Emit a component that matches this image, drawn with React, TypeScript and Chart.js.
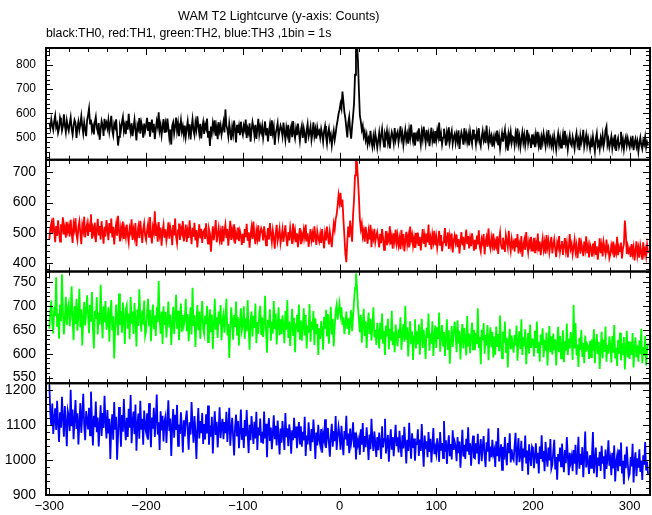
import React, { useEffect, useRef } from 'react';
import { Chart, registerables } from 'chart.js';

Chart.register(...registerables);

// Light-curve bins: start time (s) and bin width (1bin = 1s)
const T_START = -300;
const T_BIN = 1;

// black: TH0 counts per 1 s bin
const TH0 = [
  561, 538, 574, 549, 531, 567, 590, 542, 556, 519, 537, 581, 563, 528, 547, 596, 550, 522, 569, 544,
  527, 558, 583, 536, 511, 549, 572, 560, 498, 541, 565, 530, 554, 588, 546, 517, 562, 535, 505, 571,
  593, 620, 557, 574, 529, 546, 512, 563, 585, 540, 523, 559, 490, 532, 568, 551, 506, 577, 544, 560,
  538, 571, 524, 553, 589, 530, 509, 556, 542, 575, 518, 466, 502, 547, 531, 562, 584, 527, 550, 513,
  569, 532, 598, 547, 521, 558, 505, 540, 573, 529, 487, 551, 536, 580, 515, 562, 543, 499, 557, 526,
  548, 581, 527, 563, 503, 539, 574, 520, 556, 492, 533, 567, 545, 604, 528, 551, 509, 542, 576, 519,
  555, 521, 578, 540, 498, 532, 470, 549, 563, 516, 545, 582, 527, 557, 505, 538, 571, 524, 546, 511,
  549, 503, 536, 566, 520, 554, 491, 541, 575, 528, 509, 560, 533, 587, 547, 515, 556, 496, 538, 562,
  514, 553, 537, 578, 502, 526, 464, 545, 518, 559, 532, 571, 507, 540, 492, 563, 528, 550, 511, 536,
  563, 520, 616, 549, 533, 504, 557, 525, 488, 542, 514, 570, 531, 479, 552, 519, 546, 509, 565, 527,
  510, 548, 531, 574, 497, 536, 519, 558, 482, 529, 563, 541, 507, 552, 493, 535, 577, 515, 544, 522,
  547, 498, 530, 566, 511, 539, 483, 525, 553, 506, 571, 520, 544, 469, 517, 536, 559, 502, 528, 549,
  533, 505, 561, 522, 490, 540, 514, 552, 478, 527, 546, 501, 568, 519, 496, 535, 509, 557, 521, 486,
  529, 549, 498, 537, 512, 476, 531, 556, 503, 520, 544, 489, 518, 562, 507, 533, 495, 541, 516, 526,
  499, 535, 513, 482, 526, 547, 505, 474, 519, 538, 493, 511, 467, 502, 528, 490, 516, 549, 571, 598,
  615, 640, 620, 690, 650, 605, 580, 540, 500, 560, 585, 530, 495, 545, 590, 640, 760, 890, 900, 820,
  700, 592, 566, 531, 548, 505, 523, 489, 511, 470, 495, 478, 527, 483, 460, 502, 471, 516, 490, 457,
  488, 519, 472, 506, 535, 493, 462, 514, 499, 527, 481, 510, 454, 497, 522, 505, 476, 539, 490, 511,
  523, 480, 508, 546, 495, 517, 469, 503, 531, 488, 512, 474, 529, 498, 553, 507, 483, 520, 466, 502,
  515, 483, 537, 501, 470, 522, 494, 545, 509, 478, 531, 496, 517, 463, 504, 540, 487, 512, 475, 526,
  490, 528, 503, 561, 484, 512, 471, 499, 536, 507, 466, 519, 493, 542, 481, 508, 527, 474, 501, 514,
  478, 511, 486, 529, 452, 497, 521, 503, 470, 538, 492, 515, 481, 509, 466, 524, 496, 473, 532, 500,
  506, 472, 519, 495, 538, 481, 463, 502, 527, 489, 511, 476, 549, 494, 470, 516, 487, 505, 461, 498,
  474, 509, 493, 528, 467, 501, 455, 490, 518, 482, 507, 531, 469, 496, 445, 512, 486, 521, 478, 503,
  499, 468, 515, 487, 537, 474, 502, 460, 493, 521, 480, 509, 466, 495, 531, 477, 504, 488, 456, 512,
  471, 497, 459, 512, 485, 523, 468, 494, 449, 501, 478, 516, 490, 463, 507, 482, 530, 475, 496, 466,
  494, 462, 506, 480, 448, 489, 515, 471, 499, 457, 483, 512, 468, 527, 476, 495, 451, 486, 509, 473,
  465, 502, 481, 453, 496, 518, 470, 489, 447, 506, 477, 494, 531, 461, 485, 510, 468, 498, 475, 452,
  488, 459, 503, 472, 441, 494, 517, 466, 480, 452, 497, 475, 509, 463, 486, 530, 545, 470, 491, 458,
  479, 503, 456, 488, 469, 512, 444, 481, 497, 460, 476, 523, 465, 490, 451, 485, 502, 467, 496, 474,
  458, 489, 471, 506, 447, 478, 494, 462, 483, 441, 475, 499, 468, 452, 487, 472, 501, 459, 480, 466,
];

// red: TH1 counts per 1 s bin
const TH1 = [
  478, 515, 531, 496, 549, 507, 468, 522, 489, 541, 503, 470, 528, 512, 551, 494, 517, 483, 536, 505,
  521, 487, 543, 502, 466, 529, 511, 548, 493, 475, 518, 537, 499, 462, 524, 506, 553, 484, 512, 530,
  489, 526, 505, 561, 480, 514, 497, 533, 468, 509, 546, 491, 522, 477, 538, 500, 463, 519, 487, 542,
  513, 475, 532, 498, 547, 484, 519, 461, 505, 528, 490, 556, 507, 471, 516, 494, 537, 479, 510, 486,
  527, 492, 468, 515, 501, 544, 476, 509, 487, 532, 455, 498, 520, 482, 539, 503, 466, 512, 531, 490,
  475, 508, 529, 486, 552, 497, 464, 518, 501, 571, 489, 512, 470, 535, 494, 517, 457, 504, 526, 483,
  511, 473, 496, 534, 480, 519, 502, 458, 525, 491, 547, 487, 465, 508, 530, 476, 514, 499, 538, 471,
  493, 527, 469, 505, 482, 541, 498, 462, 516, 487, 533, 474, 509, 451, 495, 528, 481, 513, 466, 502,
  508, 479, 531, 490, 464, 512, 497, 437, 483, 521, 475, 505, 542, 468, 494, 516, 478, 501, 460, 523,
  471, 504, 526, 482, 513, 457, 495, 539, 476, 508, 488, 528, 463, 499, 480, 517, 472, 506, 491, 459,
  496, 466, 512, 485, 529, 473, 501, 450, 493, 518, 479, 537, 488, 462, 505, 481, 524, 470, 499, 514,
  503, 474, 521, 492, 458, 486, 515, 477, 532, 496, 469, 508, 483, 447, 498, 526, 472, 491, 513, 465,
  487, 511, 469, 496, 524, 480, 455, 502, 474, 517, 492, 463, 530, 484, 506, 471, 498, 452, 489, 515,
  462, 494, 478, 509, 486, 527, 471, 498, 453, 481, 512, 475, 496, 468, 521, 488, 459, 504, 483, 470,
  495, 466, 512, 481, 448, 497, 474, 520, 489, 461, 503, 478, 452, 495, 530, 510, 545, 560, 590, 625,
  600, 632, 585, 610, 545, 490, 430, 402, 470, 520, 485, 540, 505, 470, 560, 610, 690, 738, 735, 680,
  620, 545, 512, 530, 488, 506, 470, 519, 491, 463, 504, 478, 526, 452, 497, 481, 513, 469, 488, 502,
  477, 451, 496, 465, 512, 483, 443, 470, 505, 458, 489, 474, 521, 461, 485, 447, 498, 472, 510, 466,
  491, 458, 480, 445, 509, 469, 495, 438, 474, 503, 462, 487, 451, 520, 476, 493, 457, 482, 449, 499,
  472, 500, 456, 486, 441, 478, 512, 463, 489, 452, 497, 468, 527, 459, 481, 444, 493, 470, 506, 458,
  485, 449, 474, 506, 457, 492, 438, 468, 481, 515, 455, 477, 501, 446, 488, 463, 497, 434, 471, 490,
  467, 494, 452, 479, 431, 470, 502, 458, 486, 443, 475, 510, 462, 489, 448, 481, 455, 498, 471, 440,
  476, 445, 490, 461, 508, 452, 437, 479, 466, 495, 428, 470, 485, 453, 514, 463, 447, 482, 459, 497,
  441, 470, 455, 488, 429, 476, 500, 459, 447, 483, 465, 436, 492, 472, 451, 506, 461, 439, 478, 455,
  468, 437, 481, 452, 495, 431, 463, 447, 489, 420, 458, 476, 443, 502, 460, 435, 471, 454, 486, 440,
  455, 483, 432, 466, 448, 497, 438, 470, 425, 458, 481, 444, 467, 430, 492, 452, 473, 436, 462, 486,
  431, 460, 478, 445, 419, 466, 451, 489, 437, 458, 472, 426, 455, 482, 441, 464, 418, 450, 495, 447,
  462, 428, 451, 476, 437, 458, 415, 447, 483, 430, 466, 449, 422, 470, 445, 488, 432, 455, 418, 461,
  449, 420, 464, 438, 472, 426, 455, 410, 443, 481, 432, 458, 421, 468, 446, 429, 477, 440, 451, 415,
  427, 458, 441, 470, 418, 449, 433, 486, 425, 452, 439, 467, 414, 446, 462, 540, 498, 429, 455, 436,
  446, 419, 462, 431, 452, 408, 440, 471, 425, 448, 417, 457, 436, 410, 468, 429, 445, 421, 459, 432,
];

// green: TH2 counts per 1 s bin
const TH2 = [
  652, 690, 711, 663, 642, 698, 679, 760, 656, 684, 631, 703, 668, 766, 689, 640, 676, 719, 660, 694,
  705, 657, 683, 741, 671, 628, 699, 662, 715, 648, 680, 736, 655, 693, 617, 674, 708, 659, 687, 722,
  681, 643, 702, 667, 729, 654, 611, 690, 673, 718, 640, 685, 661, 744, 677, 632, 699, 666, 710, 650,
  664, 697, 625, 683, 712, 649, 678, 590, 655, 703, 671, 638, 726, 660, 689, 644, 707, 675, 620, 692,
  701, 652, 684, 630, 719, 663, 688, 641, 706, 672, 615, 693, 658, 735, 677, 646, 690, 661, 711, 637,
  648, 684, 715, 659, 692, 626, 674, 703, 651, 680, 637, 697, 666, 752, 671, 642, 688, 620, 699, 660,
  687, 634, 670, 709, 655, 682, 618, 664, 698, 641, 676, 723, 652, 690, 628, 667, 705, 646, 681, 659,
  672, 715, 647, 683, 626, 669, 697, 640, 738, 658, 681, 614, 666, 702, 649, 688, 631, 675, 710, 653,
  641, 679, 662, 700, 624, 667, 693, 645, 682, 610, 659, 715, 650, 676, 633, 688, 661, 702, 628, 671,
  683, 644, 672, 715, 638, 662, 591, 650, 697, 667, 629, 681, 656, 709, 640, 676, 617, 664, 695, 648,
  660, 699, 631, 674, 647, 712, 653, 608, 669, 688, 636, 679, 654, 705, 622, 666, 642, 684, 700, 639,
  676, 635, 663, 721, 648, 602, 671, 655, 693, 627, 667, 642, 710, 651, 684, 619, 660, 697, 638, 672,
  641, 680, 655, 622, 689, 650, 712, 633, 667, 616, 658, 694, 637, 675, 603, 662, 681, 645, 703, 629,
  670, 627, 656, 695, 638, 681, 611, 659, 644, 704, 625, 667, 650, 689, 618, 674, 641, 662, 597, 653,
  631, 668, 649, 608, 677, 654, 692, 636, 683, 621, 660, 698, 640, 673, 615, 656, 689, 702, 671, 688,
  705, 681, 697, 660, 676, 641, 663, 688, 652, 674, 639, 669, 691, 647, 678, 710, 738, 768, 742, 700,
  672, 645, 681, 623, 660, 694, 637, 668, 612, 655, 686, 641, 673, 627, 659, 697, 634, 650, 618, 664,
  642, 611, 665, 630, 684, 621, 648, 597, 659, 636, 673, 609, 652, 627, 690, 618, 645, 603, 661, 632,
  615, 651, 633, 676, 608, 640, 662, 625, 700, 629, 655, 594, 641, 668, 620, 647, 587, 636, 672, 611,
  647, 620, 661, 598, 639, 673, 612, 650, 627, 589, 654, 633, 684, 606, 642, 621, 668, 595, 637, 659,
  612, 655, 631, 686, 604, 637, 660, 617, 645, 595, 633, 672, 608, 649, 579, 626, 658, 614, 641, 667,
  640, 603, 670, 621, 648, 588, 633, 662, 611, 654, 627, 596, 679, 615, 642, 601, 637, 665, 609, 650,
  607, 643, 620, 695, 612, 635, 578, 650, 628, 664, 600, 639, 617, 660, 586, 631, 655, 613, 645, 592,
  636, 598, 657, 614, 641, 605, 680, 619, 590, 646, 623, 667, 602, 633, 571, 626, 652, 609, 638, 617,
  602, 639, 617, 659, 585, 628, 647, 610, 672, 597, 634, 615, 651, 578, 621, 643, 600, 661, 612, 630,
  631, 594, 648, 612, 667, 601, 625, 583, 640, 618, 653, 592, 629, 606, 644, 575, 620, 658, 603, 636,
  598, 642, 607, 630, 575, 621, 656, 603, 637, 590, 615, 649, 582, 626, 606, 663, 597, 631, 611, 645,
  626, 587, 702, 611, 664, 596, 619, 572, 633, 608, 650, 593, 622, 580, 638, 604, 620, 615, 589, 627,
  593, 630, 606, 651, 580, 617, 641, 599, 625, 568, 612, 646, 590, 629, 604, 657, 583, 618, 600, 636,
  618, 581, 637, 602, 660, 590, 612, 574, 629, 600, 644, 586, 621, 597, 635, 567, 609, 648, 592, 626,
  589, 625, 598, 643, 571, 611, 634, 592, 617, 583, 628, 599, 652, 580, 614, 596, 637, 575, 608, 621,
];

// blue: TH3 counts per 1 s bin
const TH3 = [
  1215, 1130, 1098, 1162, 1075, 1119, 1148, 1086, 1170, 1104, 1052, 1137, 1093, 1181, 1121, 1067, 1155, 1108, 1040, 1141,
  1126, 1083, 1201, 1097, 1145, 1060, 1118, 1172, 1089, 1134, 1045, 1106, 1163, 1078, 1128, 1190, 1099, 1057, 1140, 1115,
  1088, 1150, 1071, 1196, 1113, 1042, 1127, 1094, 1168, 1080, 1122, 1039, 1101, 1157, 1069, 1135, 1092, 1184, 1111, 1062,
  1143, 1076, 1118, 1003, 1096, 1131, 1058, 1166, 1087, 1124, 1001, 1072, 1152, 1105, 1038, 1129, 1081, 1175, 1099, 1057,
  1121, 1066, 1147, 1093, 1186, 1048, 1110, 1139, 1074, 1159, 1027, 1100, 1133, 1061, 1170, 1087, 1118, 1044, 1142, 1095,
  1080, 1134, 1058, 1163, 1101, 1037, 1122, 1090, 1150, 1066, 1116, 1188, 1073, 1108, 1029, 1140, 1085, 1127, 1053, 1111,
  1125, 1049, 1107, 1171, 1083, 1119, 1012, 1097, 1146, 1064, 1130, 1086, 1158, 1041, 1102, 1075, 1137, 1091, 1022, 1114,
  1068, 1117, 1142, 1085, 1030, 1108, 1073, 1166, 1099, 1050, 1126, 1081, 1003, 1094, 1149, 1062, 1112, 1077, 1135, 1046,
  1103, 1059, 1131, 1076, 1156, 1044, 1099, 1067, 1124, 1019, 1091, 1140, 1072, 1110, 1036, 1085, 1151, 1063, 1097, 1118,
  1060, 1109, 1077, 1138, 1052, 1097, 1150, 1041, 1088, 1121, 1066, 1013, 1095, 1130, 1070, 1112, 1034, 1083, 1145, 1058,
  1092, 1035, 1115, 1068, 1143, 1074, 1020, 1101, 1057, 1126, 1085, 1046, 1110, 1062, 1138, 1029, 1093, 1071, 1119, 1050,
  1081, 1047, 1139, 1062, 1104, 1008, 1087, 1120, 1055, 1093, 1031, 1075, 1128, 1060, 1098, 1042, 1113, 1069, 1016, 1090,
  1050, 1112, 1073, 1029, 1135, 1066, 1091, 1040, 1102, 1077, 1018, 1085, 1057, 1121, 1063, 1096, 1034, 1080, 1109, 1045,
  1097, 1038, 1081, 1056, 1124, 1012, 1070, 1045, 1108, 1063, 1026, 1089, 1051, 1116, 1068, 1003, 1079, 1042, 1101, 1059,
  1043, 1089, 1021, 1074, 1058, 1117, 1035, 1066, 1092, 1049, 1010, 1071, 1104, 1038, 1083, 1054, 1126, 1029, 1067, 1095,
  1071, 1030, 1098, 1052, 1014, 1083, 1059, 1127, 1041, 1076, 1020, 1090, 1047, 1065, 1108, 1036, 1079, 1002, 1061, 1044,
  1060, 1015, 1088, 1044, 1106, 1023, 1069, 1037, 1094, 1052, 1000, 1073, 1031, 1118, 1057, 1026, 1082, 1048, 1009, 1066,
  1028, 1079, 1050, 1003, 1097, 1036, 1061, 1118, 1019, 1047, 1072, 995, 1054, 1088, 1030, 1066, 1011, 1059, 1101, 1040,
  1065, 1022, 1084, 1040, 1009, 1071, 1033, 1095, 1050, 990, 1058, 1026, 1107, 1043, 1004, 1077, 1035, 1062, 998, 1049,
  1047, 1088, 1012, 1059, 1026, 1103, 1038, 981, 1070, 1031, 1054, 1008, 1080, 1023, 1061, 993, 1043, 1092, 1017, 1036,
  1018, 1062, 1035, 995, 1080, 1027, 1049, 1006, 1112, 1024, 1057, 989, 1040, 1071, 1011, 1046, 1002, 1085, 1029, 1053,
  1041, 997, 1066, 1020, 1053, 978, 1032, 1087, 1010, 1044, 1003, 1061, 1025, 1094, 1015, 1048, 984, 1036, 1070, 1007,
  1005, 1048, 1019, 1075, 988, 1031, 1060, 997, 1037, 1069, 1012, 980, 1051, 1024, 1090, 996, 1039, 1008, 1058, 1017,
  1029, 980, 1054, 1011, 1092, 996, 1023, 1045, 972, 1038, 1001, 1066, 1014, 985, 1049, 1020, 1077, 993, 1031, 1006,
  1000, 1041, 1078, 985, 1022, 1063, 994, 1016, 1055, 969, 1033, 1008, 1070, 990, 1027, 958, 1045, 1012, 983, 1038,
  1030, 977, 1012, 1048, 990, 1021, 962, 1039, 1003, 1071, 995, 1026, 968, 1052, 1009, 981, 1036, 999, 1060, 975,
  986, 1025, 1058, 973, 1009, 944, 1017, 996, 1036, 982, 1047, 1003, 965, 1029, 991, 1066, 1012, 957, 1021, 994,
  1011, 968, 1029, 990, 1044, 958, 1003, 1067, 975, 1018, 986, 1037, 951, 1008, 1082, 979, 1025, 993, 960, 1014,
  978, 1015, 1080, 962, 999, 1036, 951, 1007, 983, 1024, 969, 1041, 990, 1011, 946, 1030, 975, 1003, 1057, 984,
  1003, 957, 1021, 976, 1042, 939, 994, 1013, 968, 1030, 985, 1050, 962, 998, 931, 1016, 977, 1039, 990, 952,
  961, 1009, 982, 1047, 936, 995, 1022, 954, 1005, 978, 1031, 966, 999, 943, 1014, 987, 1052, 970, 996, 958,
];

// Tick labels
const X_TICKS = [-300, -200, -100, 0, 100, 200, 300];
const TH0_TICKS = [500, 600, 700, 800];
const TH1_TICKS = [400, 500, 600, 700];
const TH2_TICKS = [550, 600, 650, 700, 750];
const TH3_TICKS = [900, 1000, 1100, 1200];

const TITLE = 'WAM T2 Lightcurve (y-axis: Counts)';
const SUBTITLE = 'black:TH0, red:TH1, green:TH2, blue:TH3 ,1bin = 1s';

const FONT = "'Liberation Sans', Arial, Helvetica, sans-serif";

const PANELS = [
  { id: 'y0', data: TH0, color: '#000000', min: 407, max: 871, ticks: TH0_TICKS, major: 100, minor: 20, fontSize: 12, weight: 4 },
  { id: 'y1', data: TH1, color: '#ff0000', min: 371, max: 742, ticks: TH1_TICKS, major: 100, minor: 20, fontSize: 14, weight: 3 },
  { id: 'y2', data: TH2, color: '#00ff00', min: 538, max: 772, ticks: TH2_TICKS, major: 50, minor: 10, fontSize: 14, weight: 2 },
  { id: 'y3', data: TH3, color: '#0000ff', min: 900, max: 1220, ticks: TH3_TICKS, major: 100, minor: 20, fontSize: 14, weight: 1 },
];

const X_MIN = -303.5;
const X_MAX = 321;
const X_MAJOR = 100;
const X_MINOR = 20;

const framePlugin = {
  id: 'pgframes',
  afterDatasetsDraw(chart: any) {
    const { ctx, chartArea } = chart;
    const xs = chart.scales.x;
    const L = chartArea.left;
    const R = chartArea.right;
    ctx.save();
    ctx.strokeStyle = '#000';
    for (const p of PANELS) {
      const ys = chart.scales[p.id];
      const T = ys.top;
      const B = ys.bottom;
      ctx.lineWidth = 1;
      ctx.beginPath();
      const xs0 = Math.ceil(X_MIN / X_MINOR) * X_MINOR;
      for (let v = xs0; v <= X_MAX; v += X_MINOR) {
        const px = Math.round(xs.getPixelForValue(v)) + 0.5;
        const len = v % X_MAJOR === 0 ? 7 : 4;
        ctx.moveTo(px, T);
        ctx.lineTo(px, T + len);
        ctx.moveTo(px, B);
        ctx.lineTo(px, B - len);
      }
      const ys0 = Math.ceil(p.min / p.minor) * p.minor;
      for (let v = ys0; v <= p.max; v += p.minor) {
        const py = Math.round(ys.getPixelForValue(v)) + 0.5;
        const len = v % p.major === 0 ? 7 : 4;
        ctx.moveTo(L, py);
        ctx.lineTo(L + len, py);
        ctx.moveTo(R, py);
        ctx.lineTo(R - len, py);
      }
      ctx.stroke();
      ctx.lineWidth = 2;
      ctx.strokeRect(L, T, R - L, B - T);
    }
    ctx.restore();
  },
};

export default function App() {
  const ref = useRef<HTMLCanvasElement | null>(null);

  useEffect(() => {
    if (!ref.current) return;

    const scales: any = {
      x: {
        type: 'linear',
        position: 'bottom',
        min: X_MIN,
        max: X_MAX,
        grid: { display: false, drawTicks: false },
        border: { display: false },
        afterBuildTicks: (s: any) => {
          s.ticks = X_TICKS.map((v) => ({ value: v }));
        },
        afterFit: (s: any) => {
          s.height = 20;
        },
        ticks: {
          autoSkip: false,
          maxRotation: 0,
          padding: 4,
          color: '#000',
          font: { family: FONT, size: 13 },
          callback: (v: any) => (v < 0 ? '\u2212' + Math.abs(v) : String(v)),
        },
      },
    };
    for (const p of PANELS) {
      scales[p.id] = {
        type: 'linear',
        position: 'left',
        stack: 'panels',
        stackWeight: 1,
        weight: p.weight,
        min: p.min,
        max: p.max,
        grid: { display: false, drawTicks: false },
        border: { display: false },
        afterBuildTicks: (s: any) => {
          s.ticks = p.ticks.map((v) => ({ value: v }));
        },
        afterFit: (s: any) => {
          s.width = 46;
        },
        ticks: {
          autoSkip: false,
          padding: 10,
          color: '#000',
          font: { family: FONT, size: p.fontSize },
          callback: (v: any) => String(v),
        },
      };
    }

    const chart = new Chart(ref.current, {
      type: 'line',
      data: {
        datasets: PANELS.map((p) => ({
          label: p.id,
          data: p.data.map((y, i) => ({ x: T_START + i * T_BIN, y })),
          yAxisID: p.id,
          xAxisID: 'x',
          borderColor: p.color,
          borderWidth: 1.8,
          pointRadius: 0,
          tension: 0,
          fill: false,
        })),
      },
      options: {
        responsive: false,
        animation: false,
        devicePixelRatio: 1,
        layout: { padding: { top: 48, left: 0, right: 2, bottom: 0 } },
        plugins: {
          legend: { display: false },
          title: { display: false },
          tooltip: { enabled: false },
        },
        events: [],
        scales,
      },
      plugins: [framePlugin],
    });
    return () => chart.destroy();
  }, []);

  return (
    <div style={{ position: 'absolute', left: 0, top: 0, width: 652, height: 515, background: '#fff' }}>
      <canvas ref={ref} width={652} height={515} style={{ position: 'absolute', left: 0, top: 0 }} />
      <div
        style={{
          position: 'absolute',
          left: 178,
          top: 9,
          fontFamily: FONT,
          fontSize: 12.6,
          lineHeight: '15px',
          whiteSpace: 'nowrap',
          color: '#000',
        }}
      >
        {TITLE}
      </div>
      <div
        style={{
          position: 'absolute',
          left: 46,
          top: 26,
          fontFamily: FONT,
          fontSize: 12.3,
          lineHeight: '15px',
          whiteSpace: 'nowrap',
          color: '#000',
        }}
      >
        {SUBTITLE}
      </div>
    </div>
  );
}
